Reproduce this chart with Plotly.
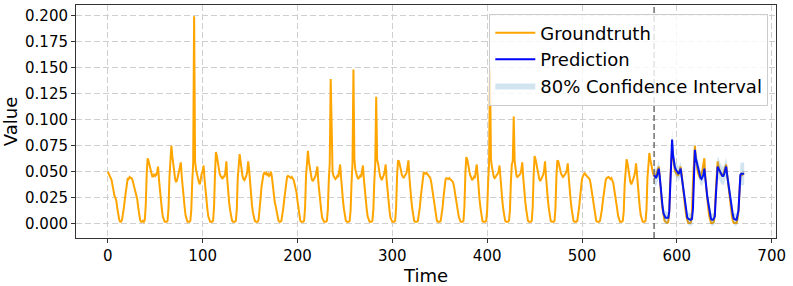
import plotly.graph_objects as go

# ---------------- data ----------------
forecast_start = 576
x_ticks = [0, 100, 200, 300, 400, 500, 600, 700]
y_ticks = [0.0, 0.025, 0.05, 0.075, 0.1, 0.125, 0.15, 0.175, 0.2]

# hourly groundtruth, t = 0 .. 671 (one row per daily hump)
groundtruth = [
    0.050, 0.048, 0.046, 0.044, 0.042, 0.037, 0.031, 0.027, 0.025, 0.022, 0.015, 0.008, 0.004, 0.002,
    0.002, 0.004, 0.009, 0.016, 0.024, 0.033, 0.040, 0.044, 0.043, 0.045, 0.044, 0.044, 0.042, 0.038, 0.034, 0.030, 0.027, 0.024, 0.016, 0.009, 0.004, 0.002, 0.002, 0.003,
    0.002, 0.004, 0.018, 0.048, 0.063, 0.060, 0.056, 0.050, 0.047, 0.045, 0.046, 0.048, 0.046, 0.047, 0.050, 0.055, 0.042, 0.030, 0.022, 0.014, 0.007, 0.003, 0.002, 0.002,
    0.002, 0.003, 0.015, 0.045, 0.062, 0.075, 0.065, 0.055, 0.046, 0.043, 0.040, 0.042, 0.046, 0.050, 0.053, 0.059, 0.045, 0.032, 0.024, 0.016, 0.008, 0.004, 0.002, 0.002,
    0.002, 0.003, 0.013, 0.040, 0.058, 0.199, 0.060, 0.052, 0.047, 0.044, 0.040, 0.038, 0.044, 0.048, 0.051, 0.056, 0.043, 0.030, 0.022, 0.014, 0.007, 0.003, 0.002, 0.002,
    0.002, 0.003, 0.016, 0.048, 0.069, 0.065, 0.058, 0.052, 0.048, 0.046, 0.044, 0.043, 0.046, 0.045, 0.050, 0.060, 0.042, 0.027, 0.020, 0.013, 0.007, 0.003, 0.002, 0.002,
    0.002, 0.003, 0.014, 0.044, 0.060, 0.067, 0.060, 0.052, 0.046, 0.043, 0.042, 0.044, 0.046, 0.050, 0.060, 0.052, 0.038, 0.025, 0.018, 0.011, 0.005, 0.003, 0.002, 0.002,
    0.002, 0.004, 0.012, 0.024, 0.035, 0.042, 0.047, 0.049, 0.048, 0.049, 0.047, 0.048, 0.046, 0.047, 0.050, 0.045, 0.035, 0.026, 0.021, 0.017, 0.011, 0.006, 0.003, 0.002,
    0.002, 0.003, 0.008, 0.015, 0.023, 0.033, 0.040, 0.045, 0.046, 0.045, 0.045, 0.044, 0.045, 0.043, 0.042, 0.038, 0.034, 0.030, 0.022, 0.015, 0.008, 0.003, 0.002, 0.002,
    0.002, 0.003, 0.016, 0.046, 0.062, 0.070, 0.060, 0.054, 0.048, 0.043, 0.041, 0.042, 0.044, 0.046, 0.050, 0.055, 0.040, 0.028, 0.020, 0.013, 0.006, 0.003, 0.002, 0.002,
    0.002, 0.003, 0.014, 0.042, 0.058, 0.139, 0.065, 0.050, 0.046, 0.044, 0.043, 0.044, 0.046, 0.045, 0.050, 0.057, 0.044, 0.030, 0.022, 0.014, 0.007, 0.003, 0.002, 0.002,
    0.002, 0.003, 0.013, 0.040, 0.058, 0.148, 0.062, 0.052, 0.047, 0.045, 0.043, 0.044, 0.046, 0.045, 0.049, 0.056, 0.043, 0.030, 0.022, 0.014, 0.007, 0.003, 0.002, 0.002,
    0.002, 0.003, 0.014, 0.041, 0.058, 0.122, 0.061, 0.058, 0.050, 0.046, 0.044, 0.042, 0.045, 0.047, 0.051, 0.057, 0.042, 0.029, 0.021, 0.013, 0.006, 0.003, 0.002, 0.002,
    0.002, 0.003, 0.016, 0.046, 0.061, 0.060, 0.057, 0.052, 0.047, 0.045, 0.044, 0.046, 0.047, 0.049, 0.055, 0.061, 0.045, 0.031, 0.023, 0.015, 0.008, 0.003, 0.002, 0.002,
    0.002, 0.003, 0.008, 0.016, 0.026, 0.036, 0.044, 0.049, 0.049, 0.048, 0.049, 0.048, 0.047, 0.046, 0.044, 0.040, 0.033, 0.027, 0.020, 0.013, 0.007, 0.003, 0.002, 0.002,
    0.002, 0.003, 0.008, 0.016, 0.026, 0.035, 0.042, 0.044, 0.043, 0.043, 0.044, 0.043, 0.042, 0.041, 0.040, 0.036, 0.031, 0.026, 0.020, 0.013, 0.007, 0.003, 0.002, 0.002,
    0.002, 0.003, 0.016, 0.048, 0.064, 0.062, 0.056, 0.052, 0.047, 0.045, 0.042, 0.043, 0.045, 0.044, 0.049, 0.057, 0.047, 0.032, 0.023, 0.015, 0.008, 0.003, 0.002, 0.002,
    0.002, 0.003, 0.013, 0.040, 0.058, 0.148, 0.062, 0.055, 0.047, 0.045, 0.044, 0.045, 0.046, 0.048, 0.050, 0.056, 0.045, 0.030, 0.022, 0.014, 0.007, 0.003, 0.002, 0.002,
    0.002, 0.003, 0.013, 0.040, 0.057, 0.060, 0.103, 0.060, 0.050, 0.046, 0.045, 0.046, 0.047, 0.048, 0.052, 0.059, 0.045, 0.031, 0.023, 0.015, 0.008, 0.003, 0.002, 0.002,
    0.002, 0.003, 0.016, 0.047, 0.065, 0.062, 0.057, 0.051, 0.046, 0.043, 0.041, 0.043, 0.045, 0.047, 0.051, 0.060, 0.046, 0.031, 0.023, 0.015, 0.008, 0.003, 0.002, 0.002,
    0.002, 0.003, 0.015, 0.045, 0.061, 0.060, 0.057, 0.052, 0.048, 0.046, 0.045, 0.046, 0.047, 0.049, 0.052, 0.058, 0.045, 0.031, 0.023, 0.015, 0.008, 0.003, 0.002, 0.002,
    0.002, 0.003, 0.008, 0.016, 0.026, 0.036, 0.043, 0.046, 0.048, 0.049, 0.047, 0.046, 0.046, 0.045, 0.043, 0.039, 0.033, 0.027, 0.021, 0.014, 0.008, 0.003, 0.002, 0.002,
    0.002, 0.003, 0.007, 0.014, 0.022, 0.030, 0.037, 0.042, 0.044, 0.045, 0.045, 0.044, 0.043, 0.044, 0.042, 0.039, 0.033, 0.028, 0.022, 0.015, 0.008, 0.003, 0.002, 0.002,
    0.002, 0.003, 0.012, 0.038, 0.055, 0.062, 0.058, 0.050, 0.044, 0.040, 0.038, 0.040, 0.043, 0.046, 0.050, 0.058, 0.045, 0.031, 0.023, 0.015, 0.008, 0.003, 0.002, 0.002,
    0.002, 0.003, 0.014, 0.044, 0.060, 0.068, 0.062, 0.056, 0.052, 0.048, 0.046, 0.045, 0.047, 0.050, 0.053, 0.055, 0.044, 0.030, 0.022, 0.014, 0.007, 0.003, 0.002, 0.001,
    0.001, 0.002, 0.012, 0.042, 0.060, 0.072, 0.064, 0.056, 0.051, 0.049, 0.047, 0.046, 0.048, 0.051, 0.055, 0.048, 0.038, 0.030, 0.022, 0.014, 0.007, 0.003, 0.001, 0.001,
    0.001, 0.002, 0.012, 0.040, 0.060, 0.075, 0.064, 0.056, 0.050, 0.047, 0.045, 0.046, 0.048, 0.052, 0.056, 0.063, 0.045, 0.032, 0.024, 0.016, 0.008, 0.003, 0.001, 0.001,
    0.001, 0.002, 0.010, 0.030, 0.050, 0.060, 0.055, 0.051, 0.048, 0.047, 0.047, 0.048, 0.051, 0.054, 0.057, 0.048, 0.039, 0.030, 0.022, 0.015, 0.008, 0.003, 0.001, 0.001,
    0.001, 0.001, 0.005, 0.012, 0.030, 0.046, 0.048, 0.047, 0.048, 0.048,
]

# model prediction, t = 576 .. 671
prediction = [
    0.047, 0.045, 0.044, 0.046, 0.050, 0.053, 0.045, 0.032, 0.024, 0.016, 0.010, 0.007,
    0.006, 0.006, 0.006, 0.006, 0.012, 0.040, 0.060, 0.081, 0.066, 0.058, 0.054, 0.052,
    0.051, 0.050, 0.048, 0.050, 0.053, 0.046, 0.040, 0.034, 0.026, 0.019, 0.012, 0.006,
    0.005, 0.004, 0.004, 0.004, 0.005, 0.015, 0.038, 0.071, 0.063, 0.059, 0.053, 0.049,
    0.048, 0.044, 0.043, 0.045, 0.047, 0.053, 0.042, 0.036, 0.027, 0.021, 0.016, 0.009,
    0.005, 0.004, 0.004, 0.005, 0.007, 0.025, 0.045, 0.055, 0.053, 0.051, 0.049, 0.047,
    0.046, 0.046, 0.048, 0.052, 0.055, 0.047, 0.040, 0.034, 0.027, 0.020, 0.014, 0.009,
    0.005, 0.004, 0.004, 0.004, 0.008, 0.013, 0.030, 0.047, 0.048, 0.048, 0.048, 0.048,
]

# half-width of the 80% confidence band, t = 576 .. 671
ci_halfwidth = [
    0.010, 0.009, 0.008, 0.008, 0.008, 0.008, 0.008,
    0.007, 0.007, 0.006, 0.006, 0.006, 0.006, 0.006, 0.006, 0.006,
    0.007, 0.008, 0.009, 0.009, 0.008, 0.007, 0.007, 0.007, 0.007, 0.007, 0.007, 0.007, 0.007, 0.007,
    0.007, 0.007, 0.006, 0.006, 0.006, 0.006, 0.006, 0.006, 0.006, 0.006, 0.006, 0.007,
    0.008, 0.009, 0.008, 0.008, 0.007, 0.007, 0.007, 0.007, 0.007, 0.007, 0.007, 0.007, 0.007, 0.007,
    0.006, 0.006, 0.006, 0.006, 0.006, 0.006, 0.006, 0.006, 0.006, 0.007,
    0.009, 0.010, 0.010, 0.009, 0.009, 0.009, 0.009, 0.009, 0.009, 0.009, 0.009, 0.008, 0.008, 0.007,
    0.007, 0.006, 0.006, 0.006, 0.006, 0.006, 0.006, 0.006, 0.007, 0.008, 0.010, 0.011, 0.011, 0.011, 0.011, 0.011,
]

assert len(groundtruth) == 672, len(groundtruth)
assert len(prediction) == 96, len(prediction)
assert len(ci_halfwidth) == 96, len(ci_halfwidth)

time = list(range(len(groundtruth)))
pred_time = time[forecast_start:forecast_start + len(prediction)]
ci_lower = [p - h for p, h in zip(prediction, ci_halfwidth)]
ci_upper = [p + h for p, h in zip(prediction, ci_halfwidth)]

FONT = "DejaVu Sans"

fig = go.Figure()
fig.add_trace(go.Scatter(x=time, y=groundtruth, mode="lines", name="Groundtruth",
                         line=dict(color="orange", width=2)))
fig.add_trace(go.Scatter(x=pred_time, y=prediction, mode="lines", name="Prediction",
                         line=dict(color="blue", width=2)))
fig.add_trace(go.Scatter(x=pred_time, y=ci_lower, mode="lines", line=dict(width=0),
                         showlegend=False, hoverinfo="skip"))
fig.add_trace(go.Scatter(x=pred_time, y=ci_upper, mode="lines", line=dict(width=0),
                         fill="tonexty", fillcolor="rgba(31,119,180,0.2)",
                         name="80% Confidence Interval"))

fig.add_vline(x=forecast_start, line=dict(color="#6e6e6e", dash="6px,3px", width=1.5))

axis_common = dict(
    showgrid=True, gridcolor="#cfcfcf", griddash="6px,3px", gridwidth=1,
    showline=True, mirror=True, linecolor="#333333", linewidth=1,
    ticks="outside", ticklen=4, tickcolor="#333333",
    tickfont=dict(family=FONT, size=15, color="black"),
    zeroline=False, automargin=False,
)

fig.update_layout(
    width=793, height=286,
    margin=dict(l=76, r=17, t=5, b=48),
    paper_bgcolor="white", plot_bgcolor="white",
    font=dict(family=FONT, color="black"),
    xaxis=dict(range=[-33.55, 704.55], tickvals=x_ticks,
               title=dict(text="Time", font=dict(family=FONT, size=18), standoff=2),
               **axis_common),
    yaxis=dict(range=[-0.0135, 0.2099], tickvals=y_ticks, tickformat=".3f",
               title=dict(text="Value", font=dict(family=FONT, size=18), standoff=4),
               **axis_common),
    legend=dict(x=0.989, y=0.963, xanchor="right", yanchor="top", traceorder="normal",
                bgcolor="rgba(255,255,255,0.8)", bordercolor="#cccccc", borderwidth=1,
                font=dict(family=FONT, size=18), tracegroupgap=0, itemwidth=40),
    showlegend=True,
)

fig.write_html("out.html", config={"displayModeBar": False},
               post_script="document.body.style.margin='0px';document.body.style.overflow='hidden';")
